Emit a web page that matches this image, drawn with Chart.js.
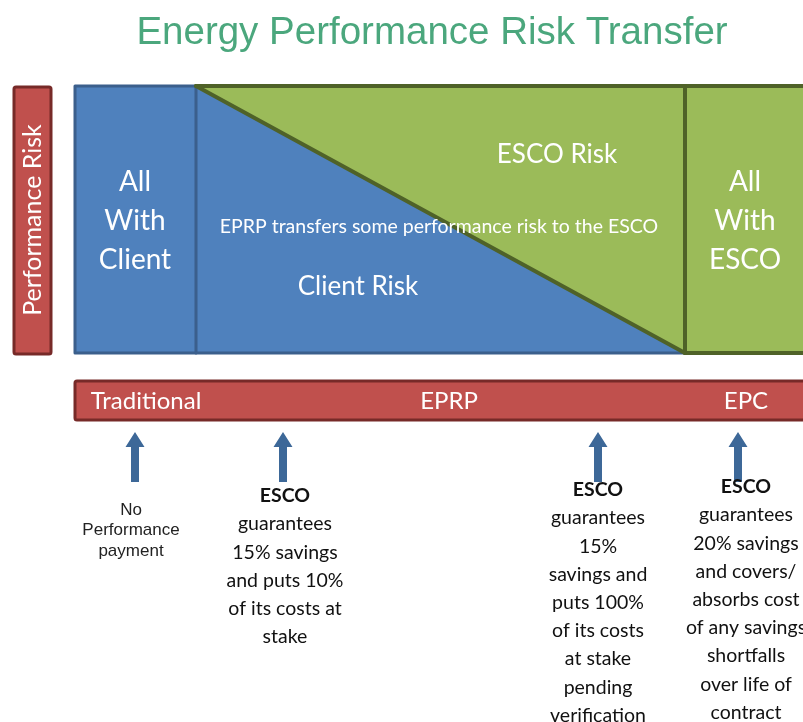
<!DOCTYPE html>
<html>
<head>
<meta charset="utf-8">
<script src="https://cdn.jsdelivr.net/npm/chart.js@4"></script>
<style>
  html, body { margin: 0; padding: 0; background: #fff; }
  #wrap { width: 803px; height: 722px; }
</style>
</head>
<body>
<div id="wrap"><canvas id="chart" width="803" height="722"></canvas></div>
<script>
// --- data ---
const titleText = "Energy Performance Risk Transfer";
const axisLabel = "Performance Risk";
const stages = ["Traditional", "EPRP", "EPC"];
// points along the contract continuum (x) and share of risk held by the client
const continuumX = [75, 196, 685, 803];
const clientShare = [1, 1, 0, 0];
const escoShare = [0, 0, 1, 1];
const areaLabels = ["All\nWith\nClient", "ESCO Risk", "EPRP transfers some performance risk to the ESCO", "Client Risk", "All\nWith\nESCO"];
const noteX = [131, 285, 598, 746];
const notes = [
  ["No", "Performance", "payment"],
  ["ESCO", "guarantees", "15% savings", "and puts 10%", "of its costs at", "stake"],
  ["ESCO", "guarantees", "15%", "savings and", "puts 100%", "of its costs", "at stake", "pending", "verification"],
  ["ESCO", "guarantees", "20% savings", "and covers/", "absorbs cost", "of any savings", "shortfalls", "over life of", "contract"]
];

// box spans y pixels 86..353 -> risk share 1..0
const BOX_TOP = 86, BOX_BOTTOM = 353, H = 722;
const span = BOX_BOTTOM - BOX_TOP;

const BLUE = "#4f81bd", BLUE_DARK = "#3b5f8c";
const GREEN = "#9bbb59", GREEN_DARK = "#4f6228";
const RED = "#c0504d", RED_DARK = "#772a28";

function pts(ys) { return continuumX.map((x, i) => ({ x: x, y: ys[i] })); }
function line(data, color, width) {
  return { data: data, borderColor: color, borderWidth: width, pointRadius: 0, fill: false, tension: 0, borderCapStyle: "round", borderJoinStyle: "round" };
}

const datasets = [
  line([{ x: continuumX[1], y: 1 }, { x: continuumX[3] + 5, y: 1 }], GREEN_DARK, 4),
  line([{ x: continuumX[1], y: 1 }, { x: continuumX[2], y: 0 }], GREEN_DARK, 4),
  line([{ x: continuumX[2], y: 1 }, { x: continuumX[2], y: 0 }], GREEN_DARK, 4),
  line([{ x: continuumX[2], y: 0 }, { x: continuumX[3] + 5, y: 0 }], GREEN_DARK, 4),
  line([{ x: continuumX[1], y: 1 }, { x: continuumX[0], y: 1 }, { x: continuumX[0], y: 0 }, { x: continuumX[2], y: 0 }], BLUE_DARK, 3),
  line([{ x: continuumX[1], y: 1 }, { x: continuumX[1], y: 0 }], BLUE_DARK, 3),
  { label: "ESCO Risk", data: pts(clientShare.map((c, i) => c + escoShare[i])), backgroundColor: GREEN, borderWidth: 0, pointRadius: 0, fill: 7, tension: 0 },
  { label: "Client Risk", data: pts(clientShare), backgroundColor: BLUE, borderWidth: 0, pointRadius: 0, fill: "origin", tension: 0 }
];

const drawPlugin = {
  id: "diagram",
  afterDraw(chart) {
    const ctx = chart.ctx;
    const xs = chart.scales.x, ys = chart.scales.y;
    const px = v => xs.getPixelForValue(v);
    const py = v => ys.getPixelForValue(v);
    ctx.save();
    ctx.textAlign = "center";
    ctx.textBaseline = "middle";

    // title
    ctx.fillStyle = "#4ba77d";
    ctx.font = "38.5px 'Liberation Sans'";
    ctx.fillText(titleText, 432, 33);

    // vertical performance risk box
    ctx.fillStyle = RED; ctx.strokeStyle = RED_DARK; ctx.lineWidth = 3;
    ctx.beginPath(); ctx.roundRect(14, py(1) + 1, 37, py(0) - py(1), 2); ctx.fill(); ctx.stroke();
    ctx.save();
    ctx.translate(33, 220);
    ctx.rotate(-Math.PI / 2);
    ctx.fillStyle = "#fff";
    ctx.font = "25px Lato";
    ctx.fillText(axisLabel, 0, 0);
    ctx.restore();

    // area labels
    ctx.fillStyle = "#fff";
    ctx.font = "28px Lato";
    ["All", "With", "Client"].forEach((t, i) => ctx.fillText(t, 135, 182 + i * 39));
    ["All", "With", "ESCO"].forEach((t, i) => ctx.fillText(t, 745, 182 + i * 39));
    ctx.font = "26px Lato";
    ctx.fillText(areaLabels[1], 557, 155);
    ctx.fillText(areaLabels[3], 358, 287);
    ctx.font = "19.5px Lato";
    ctx.fillText(areaLabels[2], 439, 227);

    // stage bar
    ctx.fillStyle = RED; ctx.strokeStyle = RED_DARK; ctx.lineWidth = 3;
    ctx.beginPath(); ctx.roundRect(px(continuumX[0]), 381, 760, 39, 2); ctx.fill(); ctx.stroke();
    ctx.fillStyle = "#fff";
    ctx.font = "24px Lato";
    const stageX = [146, 449, 746];
    stages.forEach((s, i) => ctx.fillText(s, stageX[i], 401));

    // arrows and notes
    const noteTop = [510, 496, 490, 487];
    const arrowX = [135, 283, 598, 738];
    ctx.fillStyle = "#3d6898";
    arrowX.forEach(x => {
      ctx.beginPath();
      ctx.moveTo(x, 432);
      ctx.lineTo(x + 9.5, 447);
      ctx.lineTo(x + 4, 447);
      ctx.lineTo(x + 4, 482);
      ctx.lineTo(x - 4, 482);
      ctx.lineTo(x - 4, 447);
      ctx.lineTo(x - 9.5, 447);
      ctx.closePath();
      ctx.fill();
    });
    notes.forEach((lines, n) => {
      lines.forEach((t, i) => {
        if (n === 0) {
          ctx.fillStyle = "#222";
          ctx.font = "17px 'Liberation Sans'";
          ctx.fillText(t, noteX[n], noteTop[n] + i * 20.5);
        } else {
          ctx.fillStyle = "#111";
          ctx.font = (i === 0 ? "bold " : "") + "19.5px Lato";
          ctx.fillText(t, noteX[n], noteTop[n] + i * 28.2);
        }
      });
    });
    ctx.restore();
  }
};

new Chart(document.getElementById("chart"), {
  type: "line",
  data: { datasets: datasets },
  options: {
    responsive: false,
    animation: false,
    layout: { padding: 0 },
    plugins: { legend: { display: false }, tooltip: { enabled: false }, title: { display: false } },
    scales: {
      x: { type: "linear", display: false, min: 0, max: 803 },
      y: { type: "linear", display: false, min: (BOX_BOTTOM - H) / span, max: BOX_BOTTOM / span }
    }
  },
  plugins: [drawPlugin]
});
</script>
</body>
</html>
